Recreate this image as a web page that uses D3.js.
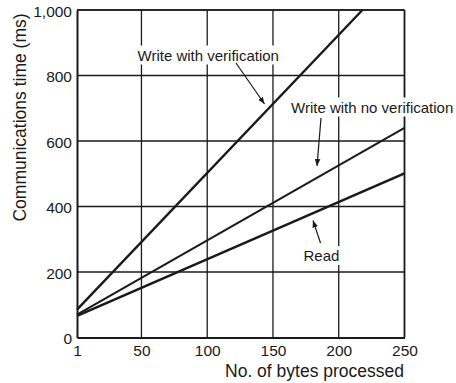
<!DOCTYPE html>
<html><head><meta charset="utf-8">
<script src="https://cdn.jsdelivr.net/npm/d3@7"></script>
<style>body{margin:0;background:#fff}svg{display:block}text{font-family:"Liberation Sans",Arial,sans-serif;fill:#1a1a1a}</style>
</head><body><svg id="c" width="456" height="383"></svg>
<script>
const xTicks = [1, 50, 100, 150, 200, 250];
const yTicks = [0, 200, 400, 600, 800, 1000];
const seriesNames = ["Write with verification", "Write with no verification", "Read"];
const verifyPts = [[1, 85], [218, 1000]];
const noVerifyPts = [[1, 70], [250, 640]];
const readPts = [[1, 66], [250, 501]];
const seriesData = [verifyPts, noVerifyPts, readPts];

const svg = d3.select("#c");
const L = 77, R = 404.5, T = 10, B = 337.5;
const x = d3.scaleLinear().domain([1, 250]).range([L, R]);
const y = d3.scaleLinear().domain([0, 1000]).range([B, T]);
const ink = "#1a1a1a";

// grid
svg.append("g").selectAll("line").data(xTicks.slice(1)).join("line")
  .attr("x1", d => x(d)).attr("x2", d => x(d)).attr("y1", T).attr("y2", B)
  .attr("stroke", ink).attr("stroke-width", 1.3);
svg.append("g").selectAll("line").data(yTicks.slice(1)).join("line")
  .attr("y1", d => y(d)).attr("y2", d => y(d)).attr("x1", L).attr("x2", R)
  .attr("stroke", ink).attr("stroke-width", 1.3);

// axes
const xa = svg.append("g").attr("transform", `translate(0,${B})`)
  .call(d3.axisBottom(x).tickValues(xTicks).tickSize(0).tickPadding(7).tickFormat(d3.format("d")));
const ya = svg.append("g").attr("transform", `translate(${L},0)`)
  .call(d3.axisLeft(y).tickValues(yTicks).tickSize(0).tickPadding(5).tickFormat(d3.format(",")));
[xa, ya].forEach(g => {
  g.select(".domain").attr("stroke", ink).attr("stroke-width", 2);
  g.selectAll("text").style("font-size", "15.5px").attr("fill", ink);
});
ya.selectAll("text").attr("dy", "0.4em");
xa.selectAll("text").attr("dy", "0.75em");
svg.append("line").attr("x1", L).attr("x2", R).attr("y1", T).attr("y2", T).attr("stroke", ink).attr("stroke-width", 1.6);
svg.append("line").attr("x1", R).attr("x2", R).attr("y1", T).attr("y2", B).attr("stroke", ink).attr("stroke-width", 1.6);

// lines
const line = d3.line().x(d => x(d[0])).y(d => y(d[1]));
const widths = [2.4, 2, 2.6];
svg.append("g").selectAll("path").data(seriesData).join("path")
  .attr("d", line).attr("fill", "none").attr("stroke", ink)
  .attr("stroke-width", (d, i) => widths[i]);

// arrow marker
svg.append("defs").append("marker").attr("id", "ah").attr("viewBox", "0 0 10 10")
  .attr("refX", 10).attr("refY", 5).attr("markerWidth", 7).attr("markerHeight", 7)
  .attr("markerUnits", "userSpaceOnUse").attr("orient", "auto")
  .append("path").attr("d", "M0,1 L10,5 L0,9 Z").attr("fill", ink);

// annotations
const notes = [
  {t: seriesNames[0], tx: 137.5, ty: 60.5, a: [236, 63, 264.5, 104]},
  {t: seriesNames[1], tx: 291, ty: 112.5, a: [321, 118, 317, 166]},
  {t: seriesNames[2], tx: 303.5, ty: 261, a: [320.5, 243, 313, 220.5]}
];
notes.forEach(n => {
  const g = svg.append("g");
  const tx = g.append("text").attr("x", n.tx).attr("y", n.ty).style("font-size", "15px").text(n.t);
  const bb = tx.node().getBBox();
  g.insert("rect", "text").attr("x", bb.x - 2).attr("y", bb.y - 1).attr("width", bb.width + 4).attr("height", bb.height + 2).attr("fill", "#fff");
  svg.append("line").attr("x1", n.a[0]).attr("y1", n.a[1]).attr("x2", n.a[2]).attr("y2", n.a[3])
    .attr("stroke", ink).attr("stroke-width", 1.2).attr("marker-end", "url(#ah)");
});

// axis titles
svg.append("text").attr("x", 404).attr("y", 377).attr("text-anchor", "end")
  .style("font-size", "17.5px").text("No. of bytes processed");
svg.append("text").attr("transform", "translate(26,117.5) rotate(-90)").attr("text-anchor", "middle")
  .style("font-size", "17.5px").text("Communications time (ms)");
</script></body></html>
